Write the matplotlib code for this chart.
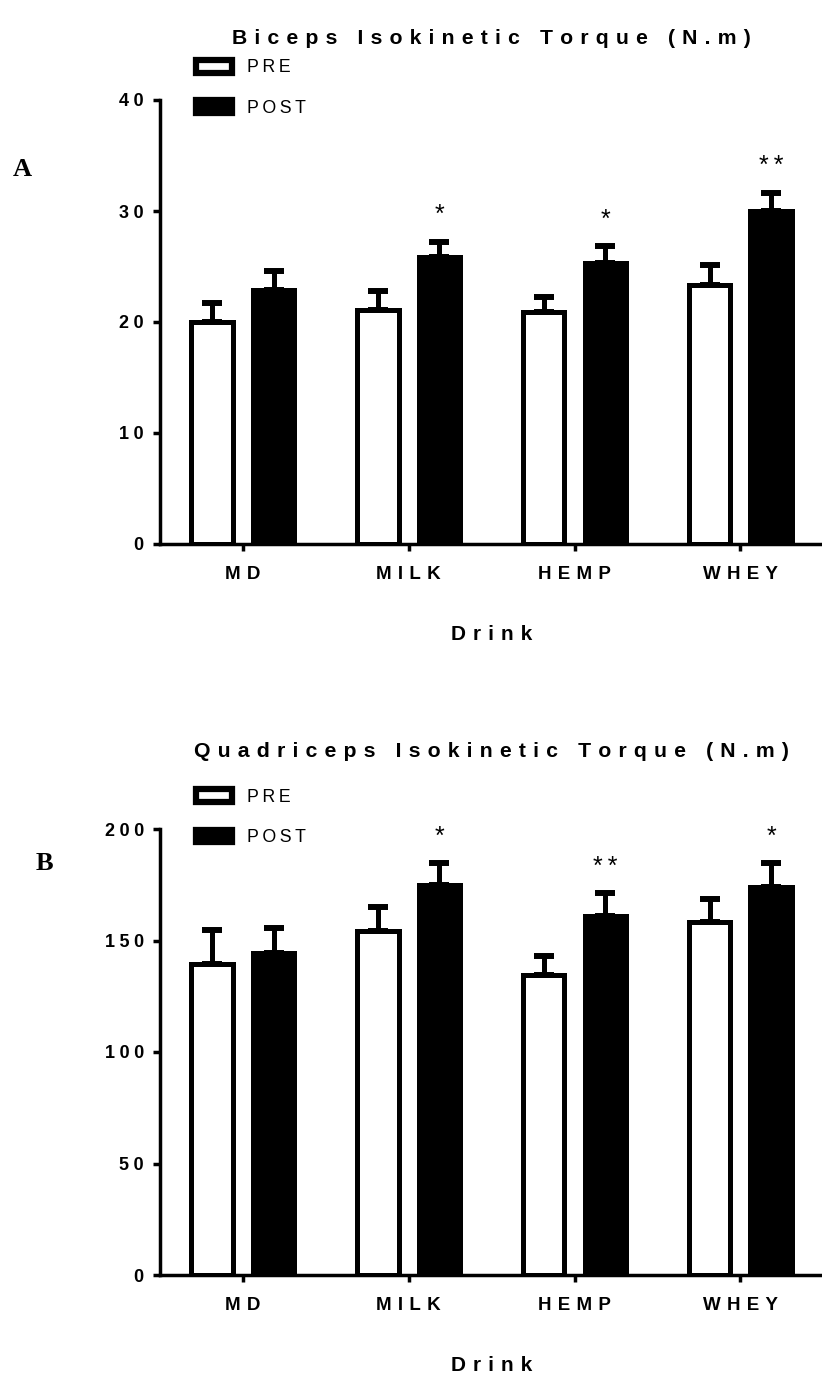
import matplotlib
matplotlib.use('Agg')
import matplotlib.pyplot as plt
import numpy as np
from matplotlib.patches import Patch

plt.rcParams['font.family'] = ['Liberation Sans', 'DejaVu Sans']

drinks = ['MD', 'MILK', 'HEMP', 'WHEY']
series = ['PRE', 'POST']

biceps_pre = [20.0, 21.1, 20.9, 23.3]
biceps_pre_se = [1.7, 1.65, 1.35, 1.85]
biceps_post = [22.9, 25.9, 25.3, 30.0]
biceps_post_se = [1.65, 1.35, 1.55, 1.65]
biceps_stars = ['', '*', '*', '**']
biceps_ticks = [0, 10, 20, 30, 40]

quad_pre = [139.3, 154.1, 134.6, 158.1]
quad_pre_se = [15.2, 10.9, 8.25, 10.55]
quad_post = [144.2, 175.0, 161.2, 173.8]
quad_post_se = [11.45, 9.75, 10.05, 10.95]
quad_stars = ['', '*', '**', '*']
quad_ticks = [0, 50, 100, 150, 200]

W, H = 822, 1378


def spaced(s, sp):
    return sp.join(s)


def panel(ax, pre, pre_se, post, post_se, stars, ticks, title, title_pad, leg_top):
    x = np.arange(len(drinks))
    off = 0.186
    bw = 0.251
    lw = 3.6
    ax.bar(x - off, pre, bw, color='white', edgecolor='black', linewidth=lw)
    ax.bar(x + off, post, bw, color='black', edgecolor='black', linewidth=lw)
    ax.errorbar(x - off, pre, yerr=[np.zeros(len(pre)), pre_se], fmt='none',
                ecolor='black', elinewidth=3.6, capsize=7.5, capthick=4.3)
    ax.errorbar(x + off, post, yerr=[np.zeros(len(post)), post_se], fmt='none',
                ecolor='black', elinewidth=3.6, capsize=7.5, capthick=4.3)
    for i, s in enumerate(stars):
        if s:
            ax.annotate(spaced(s, '\u2009'), xy=(x[i] + off, post[i] + post_se[i]),
                        xytext=(0, 14), textcoords='offset points', ha='center',
                        va='baseline', fontsize=18)

    ax.set_xlim(-0.5, 3.5)
    ax.set_ylim(ticks[0], ticks[-1])
    ax.set_yticks(ticks, labels=[spaced(str(t), '\u2005') for t in ticks],
                  fontsize=13, fontweight='bold')
    ax.set_xticks(x, labels=[spaced(d, '\u2004') for d in drinks],
                  fontsize=13.5, fontweight='bold')
    ax.tick_params(axis='y', length=5, width=2.5, pad=6.5)
    ax.tick_params(axis='x', length=5, width=2.5, pad=11)
    for sp in ['top', 'right']:
        ax.spines[sp].set_visible(False)
    for sp in ['left', 'bottom']:
        ax.spines[sp].set_linewidth(2.5)
    ax.set_xlabel(spaced('Drink', '\u2004'), fontsize=15, fontweight='bold', labelpad=30)
    ax.set_title(spaced(title, '\u2004'), fontsize=15.3, fontweight='bold', pad=title_pad)

    handles = [Patch(facecolor='white', edgecolor='black', linewidth=4.5),
               Patch(facecolor='black', edgecolor='black', linewidth=4.5)]
    ax.legend(handles, [spaced(s, '\u2009') for s in series], loc='upper left',
              bbox_to_anchor=(196 / W, 1 - leg_top / H), bbox_transform=fig.transFigure,
              frameon=False, borderpad=0, borderaxespad=0, handlelength=2.02,
              handleheight=0.73, handletextpad=0.85, labelspacing=1.3, fontsize=12.8)


fig = plt.figure(figsize=(W / 100, H / 100), dpi=100)
left = 159.75 / W
width = (823.4 - 159.75) / W
ax1 = fig.add_axes([left, 1 - 544 / H, width, (544 - 100) / H])
ax2 = fig.add_axes([left, 1 - 1275 / H, width, (1275 - 829) / H])

panel(ax1, biceps_pre, biceps_pre_se, biceps_post, biceps_post_se, biceps_stars,
      biceps_ticks, 'Biceps Isokinetic Torque (N.m)', 40, 59.5)
panel(ax2, quad_pre, quad_pre_se, quad_post, quad_post_se, quad_stars,
      quad_ticks, 'Quadriceps Isokinetic Torque (N.m)', 51.5, 789)

serif = ['Liberation Serif', 'DejaVu Serif']
fig.text(22 / W, 1 - 175.5 / H, 'A', family=serif, fontweight='bold', fontsize=19,
         ha='center', va='baseline')
fig.text(44 / W, 1 - 870.5 / H, 'B', family=serif, fontweight='bold', fontsize=19,
         ha='center', va='baseline')

fig.savefig('out.png', dpi=100)
